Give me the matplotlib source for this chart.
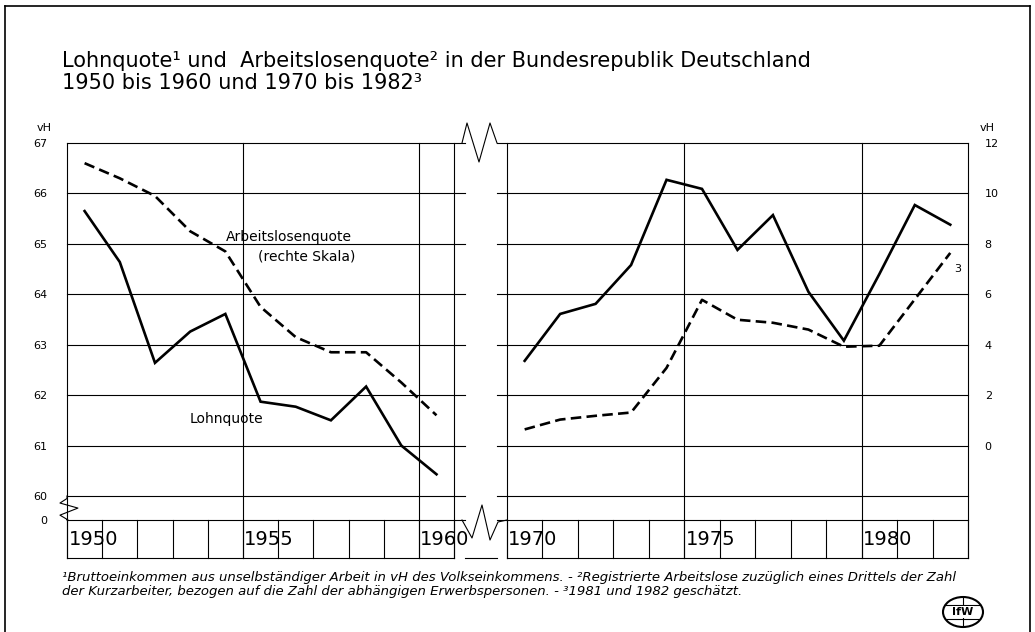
import numpy as np
import matplotlib
matplotlib.use("Agg")
import matplotlib.pyplot as plt
from matplotlib.lines import Line2D
from matplotlib.patches import Ellipse

# Daten
years_1 = list(range(1950, 1961))
lohn_1 = [65.65, 64.64, 62.64, 63.26, 63.61, 61.87, 61.77, 61.50, 62.17, 61.00, 60.43]
alq_1 = [11.2, 10.6, 9.9, 8.5, 7.7, 5.5, 4.3, 3.7, 3.7, 2.5, 1.2]

years_2 = list(range(1970, 1983))
lohn_2 = [62.68, 63.61, 63.81, 64.58, 66.27, 66.09, 64.88, 65.57, 64.05, 63.08, 64.4, 65.77, 65.38]
alq_2 = [0.64, 1.03, 1.18, 1.31, 3.08, 5.78, 4.99, 4.87, 4.6, 3.92, 3.96, 5.8, 7.64]

left_ticks = [60, 61, 62, 63, 64, 65, 66, 67]
right_ticks = [0, 2, 4, 6, 8, 10, 12]
year_labels_1 = [1950, 1955, 1960]
year_labels_2 = [1970, 1975, 1980]

title = ("Lohnquote\u00b9 und  Arbeitslosenquote\u00b2 in der Bundesrepublik Deutschland\n"
         "1950 bis 1960 und 1970 bis 1982\u00b3")
note1 = ("\u00b9Bruttoeinkommen aus unselbständiger Arbeit in vH des Volkseinkommens. - "
         "\u00b2Registrierte Arbeitslose zuzüglich eines Drittels der Zahl")
note2 = ("der Kurzarbeiter, bezogen auf die Zahl der abhängigen Erwerbspersonen. - "
         "\u00b31981 und 1982 geschätzt.")

W, H = 1035, 632
plt.rcParams['font.family'] = ['DejaVu Sans']
fig = plt.figure(figsize=(W / 100, H / 100), dpi=100)

Y0 = 59.524   # Achsenlinie ("0")
YB = 58.77    # Unterkante Jahresleiste
YLIM = (YB, 67)
R_LIM = (2 * (YB - 61), 12)
LW_DATA = 1.9
LW_GRID = 0.8


def fx(px):
    return px / W


def fy(py):
    return 1 - py / H


def panel(x0px, x1px, xlim, years, lohn, alq, majors, labels, x_end):
    ax = fig.add_axes([fx(x0px), fy(558), fx(x1px - x0px), fy(143) - fy(558)])
    ax.set_xlim(*xlim)
    ax.set_ylim(*YLIM)
    for s in ax.spines.values():
        s.set_visible(False)
    ax.set_xticks([])
    # horizontale Linien
    for v in left_ticks:
        ax.plot(xlim, [v, v], color='black', lw=LW_GRID, clip_on=False)
    ax.plot(xlim, [Y0, Y0], color='black', lw=LW_GRID, clip_on=False)
    ax.plot([majors[0], x_end], [YB, YB], color='black', lw=LW_GRID, clip_on=False)
    # senkrechte Linien
    for m in majors:
        ax.plot([m, m], [YB, 67], color='black', lw=LW_GRID, clip_on=False)
    for yr in range(majors[0], x_end + 1):
        ax.plot([yr, yr], [YB, Y0], color='black', lw=LW_GRID, clip_on=False)
    for lab in labels:
        ax.text(lab + 0.04, (YB + Y0) / 2 - 0.02, str(lab), fontsize=14, ha='left', va='center')
    xs = np.array(years) + 0.5
    ax.plot(xs, lohn, color='black', lw=LW_DATA, solid_joinstyle='miter')
    axr = ax.twinx()
    axr.set_ylim(*R_LIM)
    for s in axr.spines.values():
        s.set_visible(False)
    axr.plot(xs, alq, color='black', lw=LW_DATA, dashes=(4, 2))
    return ax, axr


ax1, ax1r = panel(67, 465, (1950, 1961.31), years_1, lohn_1, alq_1,
                  [1950, 1955, 1960, 1961], year_labels_1, 1961)
ax2, ax2r = panel(497, 968, (1969.72, 1983), years_2, lohn_2, alq_2,
                  [1970, 1975, 1980, 1983], year_labels_2, 1983)

# linke Skala
ax1.set_yticks([Y0] + left_ticks)
ax1.set_yticklabels(['0'] + [str(v) for v in left_ticks])
ax1.tick_params(axis='y', length=0, pad=14, labelsize=8)
ax1r.set_yticks([])
ax2.set_yticks([])
# rechte Skala
ax2r.set_yticks(right_ticks)
ax2r.set_yticklabels([str(v) for v in right_ticks])
ax2r.tick_params(axis='y', length=0, pad=12, labelsize=8)

fig.text(fx(52), fy(128), "vH", fontsize=8, ha='right', va='center')
fig.text(fx(980), fy(128), "vH", fontsize=8, ha='left', va='center')

# Beschriftungen
ax1.text(1954.52, 65.14, "Arbeitslosenquote", fontsize=10, ha='left', va='center')
ax1.text(1955.43, 64.74, "(rechte Skala)", fontsize=10, ha='left', va='center')
ax1.text(1953.49, 61.53, "Lohnquote", fontsize=10, ha='left', va='center')
ax2r.text(1982.62, 7.0, "3", fontsize=8, ha='left', va='center')

# Achsenbruch links
ax1.plot([1950, 1950, 1949.8, 1950.31, 1949.8, 1950.03, 1950],
         [60, 59.95, 59.86, 59.76, 59.62, Y0, Y0], color='black', lw=LW_GRID, clip_on=False)
# Achsenbrueche oben/unten (Figurkoordinaten)
for pts in ([(462, 143), (467, 123), (479, 162), (490, 123), (497, 143)],
            [(462, 520), (472, 538), (482, 505), (490, 540), (498, 522), (507, 520)]):
    fig.add_artist(Line2D([fx(p[0]) for p in pts], [fy(p[1]) for p in pts],
                          color='black', lw=LW_GRID))
fig.add_artist(Line2D([fx(465), fx(497)], [fy(558), fy(558)], color='black', lw=LW_GRID))

# Titel
fig.text(fx(62), fy(51), title, fontsize=15, ha='left', va='top', linespacing=1.1)

# Fussnoten
fig.text(fx(62), fy(577), note1, fontsize=9.5, style='italic', ha='left', va='center')
fig.text(fx(62), fy(592), note2, fontsize=9.5, style='italic', ha='left', va='center')

# Logo
cx, cy = fx(963), fy(612)
fig.add_artist(Ellipse((cx, cy), fx(40), fy(0) - fy(30), fill=False,
                       ec='black', lw=1.5, transform=fig.transFigure))
fig.add_artist(Line2D([cx, cx], [fy(598), fy(626)], color='black', lw=0.8))
fig.add_artist(Line2D([fx(946), fx(980)], [fy(605), fy(605)], color='black', lw=0.8))
fig.add_artist(Line2D([fx(946), fx(980)], [fy(619), fy(619)], color='black', lw=0.8))
fig.text(cx, cy, "IfW", fontsize=8, weight='bold', ha='center', va='center',
         bbox=dict(boxstyle='square,pad=0.05', fc='white', ec='none'))

# Rahmen
fig.add_artist(Line2D([fx(5), fx(5)], [fy(6), 0], color='black', lw=1.2))
fig.add_artist(Line2D([fx(5), fx(1030)], [fy(6), fy(6)], color='black', lw=1.2))
fig.add_artist(Line2D([fx(1030), fx(1030)], [fy(6), 0], color='black', lw=1.2))

fig.savefig("out.png", dpi=100)
